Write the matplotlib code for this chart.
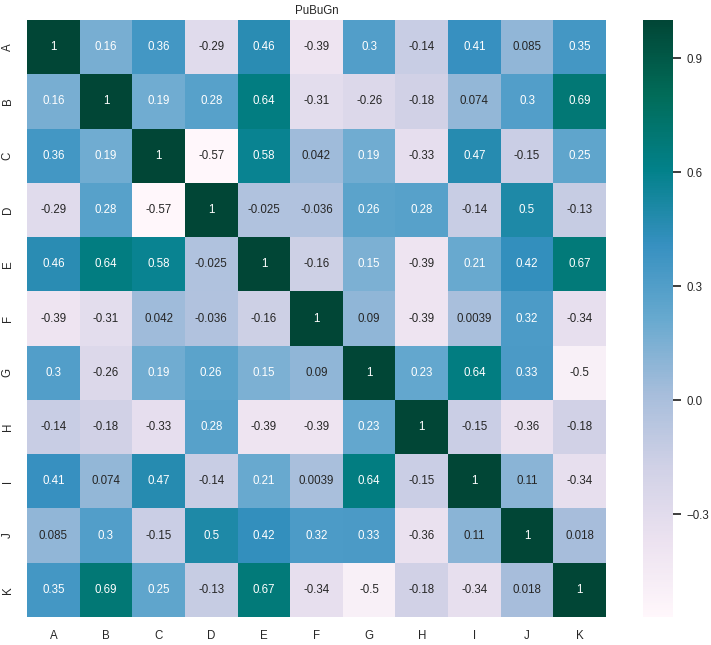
import matplotlib
matplotlib.use("Agg")
import matplotlib.pyplot as plt
import seaborn as sns
import numpy as np
import pandas as pd

labels = ["A", "B", "C", "D", "E", "F", "G", "H", "I", "J", "K"]
row_A = [1, 0.16, 0.36, -0.29, 0.46, -0.39, 0.3, -0.14, 0.41, 0.085, 0.35]
row_B = [0.16, 1, 0.19, 0.28, 0.64, -0.31, -0.26, -0.18, 0.074, 0.3, 0.69]
row_C = [0.36, 0.19, 1, -0.57, 0.58, 0.042, 0.19, -0.33, 0.47, -0.15, 0.25]
row_D = [-0.29, 0.28, -0.57, 1, -0.025, -0.036, 0.26, 0.28, -0.14, 0.5, -0.13]
row_E = [0.46, 0.64, 0.58, -0.025, 1, -0.16, 0.15, -0.39, 0.21, 0.42, 0.67]
row_F = [-0.39, -0.31, 0.042, -0.036, -0.16, 1, 0.09, -0.39, 0.0039, 0.32, -0.34]
row_G = [0.3, -0.26, 0.19, 0.26, 0.15, 0.09, 1, 0.23, 0.64, 0.33, -0.5]
row_H = [-0.14, -0.18, -0.33, 0.28, -0.39, -0.39, 0.23, 1, -0.15, -0.36, -0.18]
row_I = [0.41, 0.074, 0.47, -0.14, 0.21, 0.0039, 0.64, -0.15, 1, 0.11, -0.34]
row_J = [0.085, 0.3, -0.15, 0.5, 0.42, 0.32, 0.33, -0.36, 0.11, 1, 0.018]
row_K = [0.35, 0.69, 0.25, -0.13, 0.67, -0.34, -0.5, -0.18, -0.34, 0.018, 1]

data = pd.DataFrame([row_A, row_B, row_C, row_D, row_E, row_F, row_G,
                     row_H, row_I, row_J, row_K], index=labels, columns=labels)

sns.set_theme()
plt.rcParams['font.family'] = ['Liberation Sans', 'DejaVu Sans']
fs = 8.3
plt.rcParams['font.size'] = fs

fig = plt.figure(figsize=(7.11, 6.45), dpi=100)
ax = fig.add_axes([27/711, 28/645, 579/711, 597/645])
cax = fig.add_axes([643/711, 28/645, 30/711, 597/645])

sns.heatmap(data, ax=ax, cbar_ax=cax, annot=True, cmap="PuBuGn",
            annot_kws={"fontsize": fs})
ax.set_title("PuBuGn", fontsize=fs, pad=4)
ax.tick_params(labelsize=fs)
cax.tick_params(labelsize=fs)
cax.set_yticks([-0.3, 0.0, 0.3, 0.6, 0.9])

fig.savefig("out.png", dpi=100)
